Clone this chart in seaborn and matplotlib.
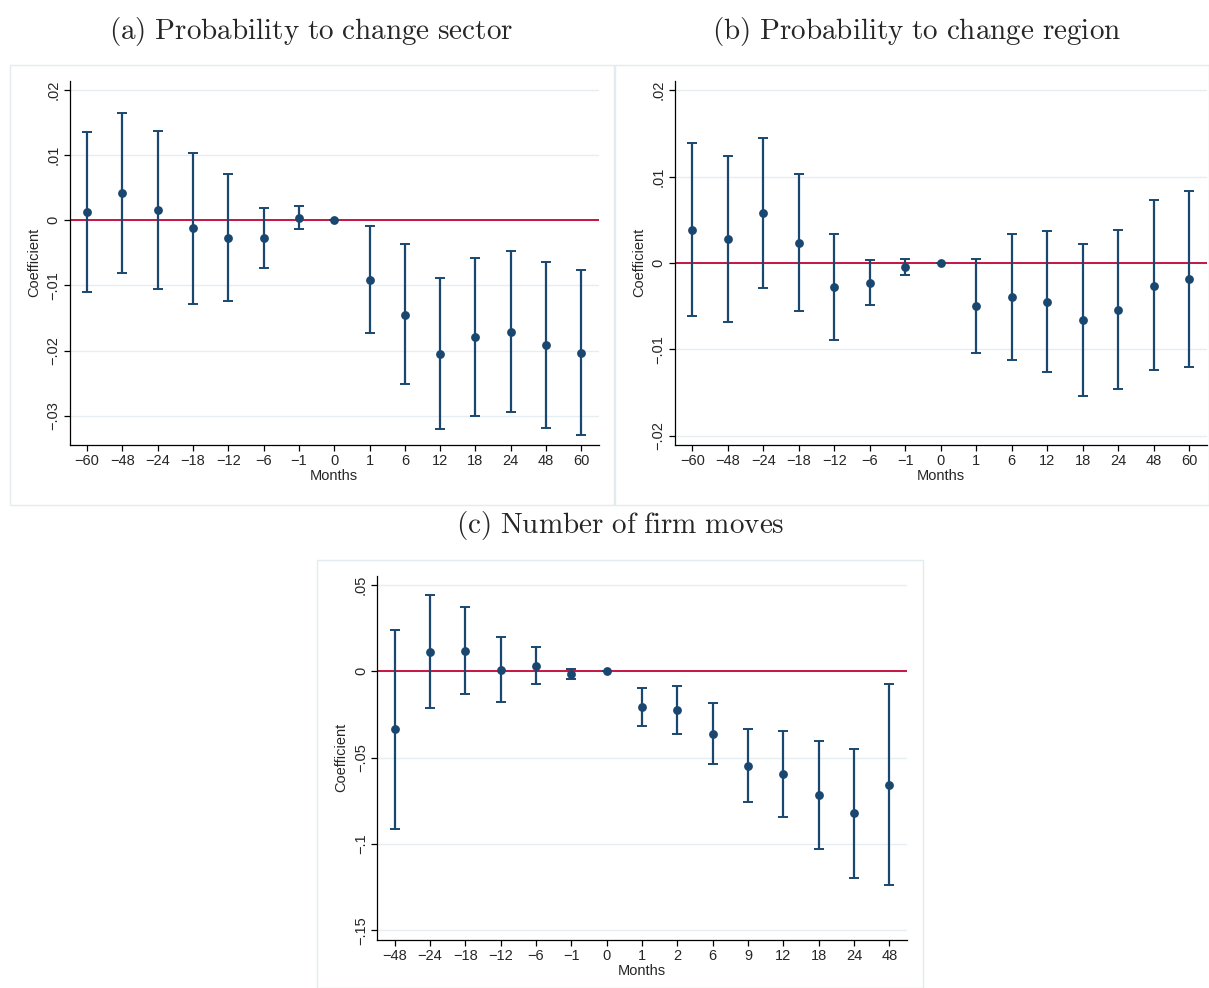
import numpy as np
import pandas as pd
import matplotlib
matplotlib.use("Agg")
import matplotlib.pyplot as plt
import seaborn as sns
from matplotlib.patches import Rectangle

# Event-time labels (months relative to the event)
months_ab = [-60, -48, -24, -18, -12, -6, -1, 0, 1, 6, 12, 18, 24, 48, 60]
months_c = [-48, -24, -18, -12, -6, -1, 0, 1, 2, 6, 9, 12, 18, 24, 48]

# (a) Probability to change sector
coef_a = [0.00123, 0.00414, 0.00153, -0.00123, -0.00271, -0.00281, 0.00031, 0.0,
          -0.00921, -0.01448, -0.02046, -0.01795, -0.01719, -0.01918, -0.02036]
hi_a = [0.01355, 0.01652, 0.01366, 0.01033, 0.00716, 0.00179, 0.00210, 0.0,
        -0.00097, -0.00373, -0.00880, -0.00588, -0.00476, -0.00645, -0.00762]
lo_a = [-0.01095, -0.00813, -0.01059, -0.01279, -0.01248, -0.00731, -0.00143, 0.0,
        -0.01734, -0.02512, -0.03202, -0.03008, -0.02951, -0.03182, -0.03304]

# (b) Probability to change region
coef_b = [0.00386, 0.00278, 0.00575, 0.00232, -0.00278, -0.00228, -0.00046, 0.0,
          -0.00502, -0.00394, -0.00452, -0.00664, -0.00548, -0.00263, -0.00185]
hi_b = [0.01390, 0.01243, 0.01452, 0.01027, 0.00336, 0.00035, 0.00046, 0.0,
        0.00042, 0.00336, 0.00367, 0.00216, 0.00375, 0.00726, 0.00838]
lo_b = [-0.00614, -0.00680, -0.00297, -0.00556, -0.00892, -0.00494, -0.00135, 0.0,
        -0.01046, -0.01124, -0.01270, -0.01540, -0.01467, -0.01247, -0.01205]

# (c) Number of firm moves
coef_c = [-0.0336, 0.0114, 0.0120, 0.0008, 0.0031, -0.0014, 0.0, -0.0207,
          -0.0224, -0.0363, -0.0546, -0.0597, -0.0716, -0.0822, -0.0656]
hi_c = [0.0239, 0.0444, 0.0375, 0.0197, 0.0139, 0.0015, 0.0, -0.0097,
        -0.0085, -0.0185, -0.0332, -0.0347, -0.0403, -0.0448, -0.0071]
lo_c = [-0.0911, -0.0210, -0.0129, -0.0180, -0.0075, -0.0044, 0.0, -0.0317,
        -0.0363, -0.0539, -0.0759, -0.0844, -0.1029, -0.1195, -0.1237]

yticks_a = [0.02, 0.01, 0.0, -0.01, -0.02, -0.03]
ylabels_a = [".02", ".01", "0", "\u2212.01", "\u2212.02", "\u2212.03"]
yticks_b = [0.02, 0.01, 0.0, -0.01, -0.02]
ylabels_b = [".02", ".01", "0", "\u2212.01", "\u2212.02"]
yticks_c = [0.05, 0.0, -0.05, -0.1, -0.15]
ylabels_c = [".05", "0", "\u2212.05", "\u2212.1", "\u2212.15"]

titles = [r"$\mathrm{(a)\ Probability\ to\ change\ sector}$",
          r"$\mathrm{(b)\ Probability\ to\ change\ region}$",
          r"$\mathrm{(c)\ Number\ of\ firm\ moves}$"]

sns.set_theme(style="white")
plt.rcParams["font.family"] = ["Liberation Sans", "DejaVu Sans"]
plt.rcParams["mathtext.fontset"] = "cm"

NAVY = "#1a476f"
RED = "#c10534"
GRID = "#e6eef1"

W, H = 1209, 988
fig = plt.figure(figsize=(W / 100, H / 100), dpi=100)
fig.patch.set_facecolor("white")


def fbox(x0, y0, x1, y1):
    """Pixel box (top-left origin) -> figure fraction rect."""
    return [x0 / W, 1 - y1 / H, (x1 - x0) / W, (y1 - y0) / H]


def panel(rect, months, coef, lo, hi, ylim, yticks, ylabels):
    ax = fig.add_axes(rect)
    df = pd.DataFrame({"pos": np.arange(len(months)), "coef": coef,
                       "lo": lo, "hi": hi})
    ax.set_xlim(-0.5, len(months) - 0.5)
    ax.set_ylim(*ylim)
    for t in yticks:
        ax.axhline(t, color=GRID, lw=1.0, zorder=1)
    ax.axhline(0, color=RED, lw=1.3, zorder=2)
    ax.errorbar(df["pos"], df["coef"],
                yerr=[df["coef"] - df["lo"], df["hi"] - df["coef"]],
                fmt="none", ecolor=NAVY, elinewidth=1.6, capsize=3.5,
                capthick=1.4, zorder=3)
    sns.scatterplot(data=df, x="pos", y="coef", ax=ax, color=NAVY, s=40,
                    edgecolor=NAVY, linewidth=0, zorder=4, legend=False)
    ax.set_xticks(df["pos"])
    ax.set_xticklabels([str(m).replace("-", "\u2212") for m in months])
    ax.set_yticks(yticks)
    ax.set_yticklabels(ylabels, rotation=90, va="center")
    ax.set_xlabel("Months", fontsize=10.5, labelpad=1)
    ax.set_ylabel("Coefficient", fontsize=10.5, labelpad=4)
    ax.tick_params(axis="both", labelsize=10.5, length=4.5, width=0.9,
                   color="black", direction="out", bottom=True, left=True,
                   pad=2)
    for s in ["top", "right"]:
        ax.spines[s].set_visible(False)
    for s in ["left", "bottom"]:
        ax.spines[s].set_color("black")
        ax.spines[s].set_linewidth(0.9)
    ax.set_facecolor("white")
    ax.grid(False)
    return ax


# Light frames around each graph region
for (x0, y0, x1, y1) in [(10, 65, 614, 505), (615, 65, 1209, 505),
                         (317, 560, 923, 988)]:
    fig.patches.append(Rectangle((x0 / W, 1 - y1 / H), (x1 - x0) / W,
                                 (y1 - y0) / H, transform=fig.transFigure,
                                 fill=False, edgecolor="#e4ebee", lw=1.0))

panel(fbox(69.5, 80.7, 599, 445), months_ab, coef_a, lo_a, hi_a,
      (-0.0345, 0.0214), yticks_a, ylabels_a)
panel(fbox(674.5, 80.7, 1207, 445), months_ab, coef_b, lo_b, hi_b,
      (-0.0211, 0.0211), yticks_b, ylabels_b)
panel(fbox(377, 575.7, 907, 940), months_c, coef_c, lo_c, hi_c,
      (-0.1556, 0.0554), yticks_c, ylabels_c)

fig.text(311 / W, 1 - 31 / H, titles[0], ha="center", va="center", fontsize=21)
fig.text(917 / W, 1 - 31 / H, titles[1], ha="center", va="center", fontsize=21)
fig.text(620 / W, 1 - 525 / H, titles[2], ha="center", va="center", fontsize=21)

fig.savefig("out.png", dpi=100, facecolor="white")
